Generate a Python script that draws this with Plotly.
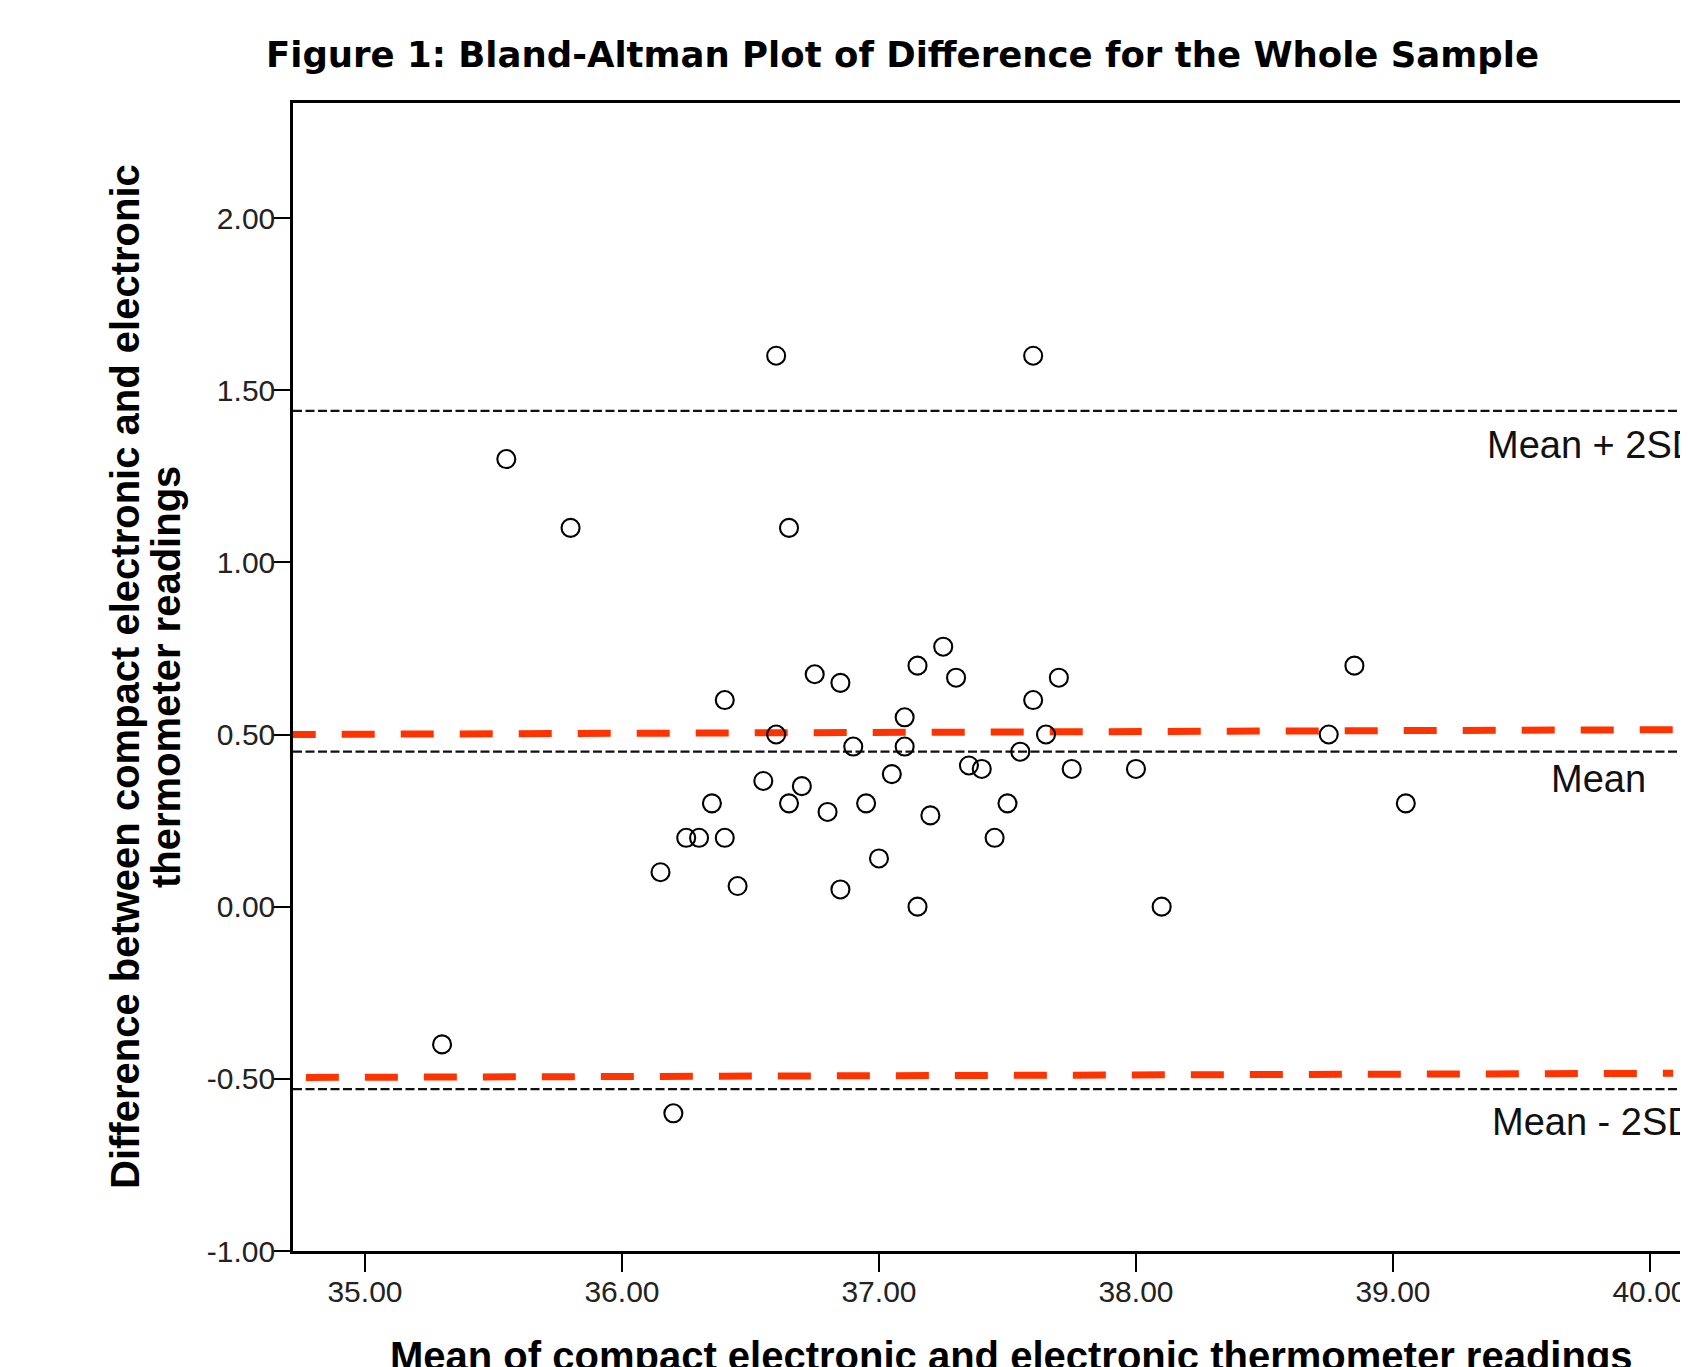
import plotly.graph_objects as go

# ---- data ----
mean_readings = [36.60, 37.60, 35.55, 35.80, 36.65, 38.85, 37.25, 37.15, 36.75, 36.85,
                 37.30, 37.70, 36.40, 37.60, 37.10, 36.60, 37.65, 38.75, 36.90, 37.10,
                 37.55, 37.35, 37.40, 37.75, 38.00, 36.55, 36.70, 37.05, 36.35, 36.65,
                 36.95, 37.50, 39.05, 36.80, 37.20, 36.25, 36.30, 36.40, 37.45, 37.00,
                 36.15, 36.45, 36.85, 37.15, 38.10, 35.30, 36.20]
differences = [1.60, 1.60, 1.30, 1.10, 1.10, 0.70, 0.755, 0.70, 0.675, 0.65,
               0.665, 0.665, 0.60, 0.60, 0.55, 0.50, 0.50, 0.50, 0.465, 0.465,
               0.45, 0.41, 0.40, 0.40, 0.40, 0.365, 0.35, 0.385, 0.30, 0.30,
               0.30, 0.30, 0.30, 0.275, 0.265, 0.20, 0.20, 0.20, 0.20, 0.14,
               0.10, 0.06, 0.05, 0.00, 0.00, -0.40, -0.60]

limit_names = ["Mean + 2SD", "Mean", "Mean - 2SD"]
limit_values = [1.44, 0.45, -0.53]

upper_red_x = [34.68, 40.09]
upper_red_y = [0.50, 0.514]
lower_red_x = [34.77, 40.09]
lower_red_y = [-0.496, -0.484]

x_ticks = [35, 36, 37, 38, 39, 40]
y_ticks = [-1.0, -0.5, 0.0, 0.5, 1.0, 1.5, 2.0]

X_RANGE = [34.72, 40.148]
Y_RANGE = [-1.0, 2.334]

# the page body has an 8px margin; the figure is sized so that it fills the window
OFF = 8
W, H = 1688 - OFF, 1367 - OFF
L, T = 293 - OFF, 103 - OFF
B = H - (1251 - OFF)
PW, PH = W - L, H - T - B

fig = go.Figure()

# black dashed reference lines (mean and limits of agreement)
for v in limit_values:
    fig.add_trace(go.Scatter(
        x=X_RANGE, y=[v, v], mode="lines",
        line=dict(color="#111111", width=2.2, dash="9px,3.5px"),
        hoverinfo="skip", showlegend=False))

# red dashed lines
for xs, ys in [(upper_red_x, upper_red_y), (lower_red_x, lower_red_y)]:
    fig.add_trace(go.Scatter(
        x=xs, y=ys, mode="lines",
        line=dict(color="#ff3300", width=7, dash="33px,26px"),
        hoverinfo="skip", showlegend=False, cliponaxis=False))

# data points
fig.add_trace(go.Scatter(
    x=mean_readings, y=differences, mode="markers",
    marker=dict(symbol="circle-open", size=18, color="#000000",
                line=dict(width=2.1, color="#000000")),
    showlegend=False))

# labels for reference lines
label_pos = {"Mean + 2SD": (39.358, 1.34), "Mean": (39.607, 0.371), "Mean - 2SD": (39.377, -0.625)}
for name in limit_names:
    lx, ly = label_pos[name]
    fig.add_annotation(x=lx, y=ly, xref="x", yref="y", text=name, showarrow=False,
                       xanchor="left", yanchor="middle",
                       font=dict(family="Liberation Sans, Arial", size=38, color="#111111"))


def px_x(p):
    return (p - 293) / PW


def px_y(p):
    return (1251 - p) / PH


# title
fig.add_annotation(x=px_x(902), y=px_y(55), xref="paper", yref="paper",
                   text="<b>Figure 1: Bland-Altman Plot of Difference for the Whole Sample</b>",
                   showarrow=False, xanchor="center", yanchor="middle",
                   font=dict(family="DejaVu Sans", size=35.5, color="#000000"))

# axis titles
axis_font = dict(family="Liberation Sans, Arial", size=40, color="#000000")
fig.add_annotation(x=px_x(1011), y=px_y(1356), xref="paper", yref="paper",
                   text="<b>Mean of compact electronic and electronic thermometer readings</b>",
                   showarrow=False, xanchor="center", yanchor="middle", font=axis_font)
fig.add_annotation(x=px_x(125), y=0.5, xref="paper", yref="paper", textangle=-90,
                   text="<b>Difference between compact electronic and electronic</b>",
                   showarrow=False, xanchor="center", yanchor="middle", font=axis_font)
fig.add_annotation(x=px_x(166), y=0.5, xref="paper", yref="paper", textangle=-90,
                   text="<b>thermometer readings</b>",
                   showarrow=False, xanchor="center", yanchor="middle", font=axis_font)

tick_font = dict(family="Liberation Sans, Arial", size=30, color="#222222")
fig.update_xaxes(range=X_RANGE, tickvals=x_ticks, ticktext=[f"{v:.2f}" for v in x_ticks],
                 ticks="outside", ticklen=18, tickwidth=2.2, tickcolor="#000000",
                 ticklabelstandoff=-6,
                 showline=True, linecolor="#000000", linewidth=2.5, mirror=True,
                 showgrid=False, zeroline=False, tickfont=tick_font)
fig.update_yaxes(range=Y_RANGE, tickvals=y_ticks, ticktext=[f"{v:.2f}" for v in y_ticks],
                 ticks="outside", ticklen=17, tickwidth=2.2, tickcolor="#000000",
                 ticklabelstandoff=-8,
                 showline=True, linecolor="#000000", linewidth=2.5, mirror=False,
                 showgrid=False, zeroline=False, tickfont=tick_font)

fig.update_layout(width=W, height=H,
                  margin=dict(l=L, r=0, t=T, b=B, autoexpand=False),
                  paper_bgcolor="white", plot_bgcolor="white", showlegend=False)

fig.write_html("out.html", config={"displayModeBar": False})
